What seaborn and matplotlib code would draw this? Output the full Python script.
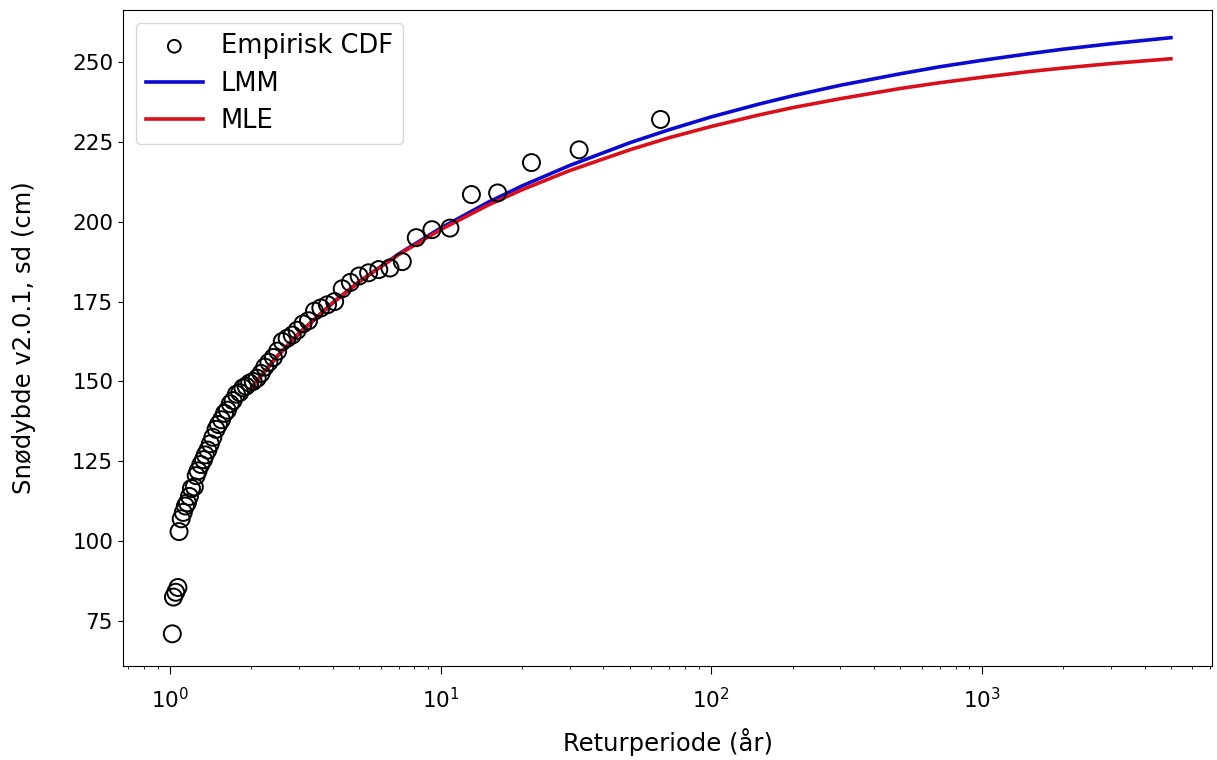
import matplotlib
matplotlib.use("Agg")
import matplotlib.pyplot as plt
import seaborn as sns

# Empirical CDF: return period (år) and snow depth (cm)
emp_T = [65.0, 32.5, 21.67, 16.25, 13.0, 10.83, 9.29, 8.13, 7.22, 6.5,
         5.91, 5.42, 5.0, 4.64, 4.33, 4.06, 3.82, 3.61, 3.42, 3.25,
         3.10, 2.95, 2.83, 2.71, 2.6, 2.5, 2.41, 2.32, 2.24, 2.17,
         2.10, 2.03, 1.97, 1.91, 1.86, 1.81, 1.76, 1.71, 1.67, 1.63,
         1.59, 1.55, 1.51, 1.48, 1.44, 1.41, 1.38, 1.35, 1.33, 1.30,
         1.27, 1.25, 1.23, 1.20, 1.18, 1.16, 1.14, 1.12, 1.10, 1.08,
         1.07, 1.05, 1.03, 1.02]
emp_sd = [232, 222.5, 218.5, 209, 208.5, 198, 197.5, 195, 187.5, 185.5,
          185, 184, 183, 181, 179, 175, 174, 173, 172, 169,
          168, 166, 164.5, 163.5, 162.5, 159.5, 157.5, 156, 154.5, 152.5,
          151, 150, 149.5, 148.5, 148, 146.5, 146, 144, 143, 141,
          140, 138, 136.5, 135, 132.5, 130.5, 128.5, 127, 125.5, 124,
          122, 120.5, 117, 116.5, 114, 112, 111, 109, 107, 103,
          85.5, 84, 82.5, 71]

# Fitted return levels
fit_T = [2, 2.5, 3, 4, 5, 7, 10, 15, 20, 30, 50, 70, 100, 150, 200, 300,
         500, 700, 1000, 1500, 2000, 3000, 5000]
lmm_sd = [148.0, 158.0, 165.0, 174.6, 181.2, 189.9, 198.0, 206.1, 211.2,
          217.6, 224.7, 228.8, 232.8, 236.8, 239.4, 242.7, 246.3, 248.5,
          250.5, 252.6, 254.0, 255.7, 257.6]
mle_sd = [148.0, 158.1, 165.1, 174.7, 181.2, 189.7, 197.5, 205.2, 210.0,
          216.0, 222.5, 226.3, 229.8, 233.4, 235.7, 238.5, 241.7, 243.5,
          245.2, 247.0, 248.1, 249.5, 251.0]

plt.rcParams["font.size"] = 15.5

fig = plt.figure(figsize=(12.17, 7.6), dpi=100)
ax = fig.add_axes([0.101, 0.124, 0.895, 0.863])

sns.scatterplot(x=emp_T, y=emp_sd, ax=ax, marker="o", s=150,
                facecolors="none", edgecolor="black", linewidth=1.4,
                label="Empirisk CDF", zorder=3)
sns.lineplot(x=fit_T, y=lmm_sd, ax=ax, color="#0a0ad0", linewidth=2.6,
             label="LMM", estimator=None, sort=False)
sns.lineplot(x=fit_T, y=mle_sd, ax=ax, color="#d8101c", linewidth=2.6,
             label="MLE", estimator=None, sort=False)

ax.set_xscale("log")
ax.set_xlim(0.67, 7100)
ax.set_ylim(61, 266.3)
ax.set_yticks([75, 100, 125, 150, 175, 200, 225, 250])
ax.tick_params(axis="x", which="major", length=6, pad=9)
ax.set_xlabel("Returperiode (år)", fontsize=17.5, labelpad=12)
ax.set_ylabel("Snødybde v2.0.1, sd (cm)", fontsize=17.5, labelpad=26)
ax.legend(loc="upper left", fontsize=18.5, labelspacing=0.45,
          handlelength=2.2, handletextpad=0.7, markerscale=0.75)

fig.savefig("out.png", dpi=100)
